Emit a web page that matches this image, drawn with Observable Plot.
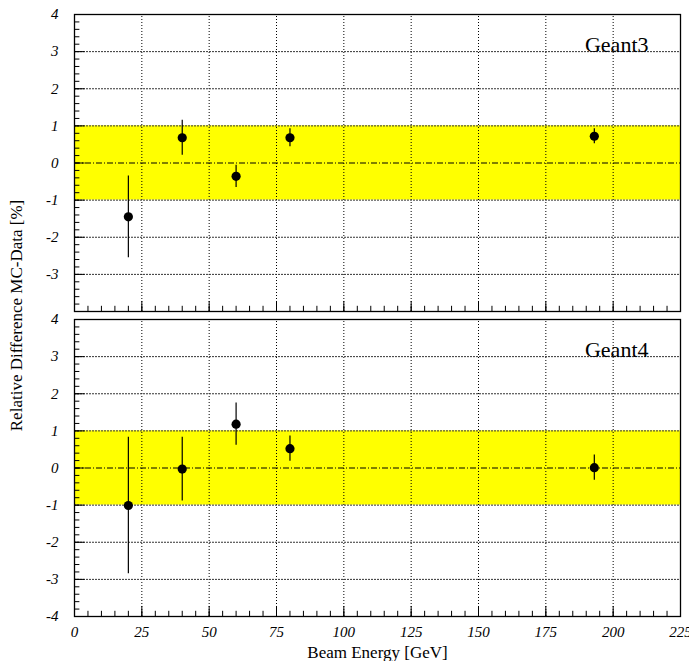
<!DOCTYPE html>
<html>
<head>
<meta charset="utf-8">
<script src="https://cdn.jsdelivr.net/npm/d3@7"></script>
<script src="https://cdn.jsdelivr.net/npm/@observablehq/plot@0.6"></script>
<style>
  html, body { margin: 0; padding: 0; background: #fff; }
  #chart svg { display: block; }
  #chart svg text { font-family: "Liberation Serif", "Times New Roman", Times, serif; }
</style>
</head>
<body>
<div id="chart"></div>
<script>
// Beam energies (GeV) of the measured points
const energies = [20, 40, 60, 80, 193];

// Relative difference MC - data (%) and its uncertainty, per simulation
const geant3 = [-1.45, 0.68, -0.36, 0.68, 0.72];
const geant3Err = [1.1, 0.47, 0.3, 0.24, 0.2];
const geant4 = [-1.01, -0.03, 1.18, 0.52, 0.01];
const geant4Err = [1.84, 0.86, 0.57, 0.34, 0.34];

const panels = ["Geant3", "Geant4"];

// Axis ticks
const xMajor = [0, 25, 50, 75, 100, 125, 150, 175, 200, 225];
const xGrid = [25, 50, 75, 100, 125, 150, 175, 200];
const xMinor = d3.range(0, 226, 5);
const yGrid = [-3, -2, -1, 1, 2, 3];
const yMajor = [-4, -3, -2, -1, 0, 1, 2, 3, 4];
const yMinor = d3.range(-40, 41, 2).map(v => v / 10);
// the top panel omits its lowest label where it meets the lower panel
const yLabels = [
  {panel: "Geant3", ticks: [-3, -2, -1, 0, 1, 2, 3, 4]},
  {panel: "Geant4", ticks: [-4, -3, -2, -1, 0, 1, 2, 3, 4]}
];

// ±1% tolerance band
const bandLow = -1;
const bandHigh = 1;

const xDomain = [0, 225];
const yDomain = [-4, 4];

const points = [
  ...energies.map((e, i) => ({panel: "Geant3", energy: e, diff: geant3[i], err: geant3Err[i]})),
  ...energies.map((e, i) => ({panel: "Geant4", energy: e, diff: geant4[i], err: geant4Err[i]}))
];
const tickLabelRows = yLabels.flatMap(p => p.ticks.map(t => ({panel: p.panel, v: t})));

const serif = "Liberation Serif, Times New Roman, Times, serif";
// tick lengths expressed in axis units
const xTickMinor = 0.14, xTickMajor = 0.27;
const yTickMinor = 2.0, yTickMajor = 3.9;

const chart = Plot.plot({
  width: 689,
  height: 661,
  marginLeft: 74,
  marginRight: 9,
  marginTop: 13,
  marginBottom: 44,
  style: {fontFamily: serif, background: "#fff", color: "#000"},
  x: {domain: xDomain},
  y: {domain: yDomain, axis: null},
  fy: {domain: panels, paddingInner: 0.025, paddingOuter: 0},
  marks: [
    // tolerance band
    Plot.rect([{lo: bandLow, hi: bandHigh}], {x1: xDomain[0], x2: xDomain[1], y1: "lo", y2: "hi", fill: "#ffff00"}),
    // dotted grid
    Plot.ruleX(xGrid, {y1: yDomain[0], y2: yDomain[1], stroke: "#000", strokeWidth: 1, strokeDasharray: "1,2"}),
    Plot.ruleY(yGrid, {x1: xDomain[0], x2: xDomain[1], stroke: "#333", strokeWidth: 1, strokeDasharray: "2,1"}),
    // zero line, dash-dot
    Plot.ruleY([0], {x1: xDomain[0], x2: xDomain[1], stroke: "#000", strokeWidth: 1, strokeDasharray: "6,2,1,2"}),
    // inward ticks on the bottom edge
    Plot.ruleX(xMinor, {y1: yDomain[0], y2: yDomain[0] + xTickMinor, stroke: "#000", strokeWidth: 1}),
    Plot.ruleX(xMajor, {y1: yDomain[0], y2: yDomain[0] + xTickMajor, stroke: "#000", strokeWidth: 1}),
    // inward ticks on the left edge
    Plot.ruleY(yMinor, {x1: xDomain[0], x2: xDomain[0] + yTickMinor, stroke: "#000", strokeWidth: 1}),
    Plot.ruleY(yMajor, {x1: xDomain[0], x2: xDomain[0] + yTickMajor, stroke: "#000", strokeWidth: 1}),
    // panel frames
    Plot.frame({stroke: "#000", strokeWidth: 1.3}),
    // y tick labels
    Plot.text(tickLabelRows, {
      fy: "panel", y: "v", text: d => String(d.v), frameAnchor: "left",
      textAnchor: "end", dx: -16, fontSize: 15, fontStyle: "italic",
      fontFamily: serif, fill: "#000"
    }),
    // error bars and points
    Plot.ruleX(points, {fy: "panel", x: "energy", y1: d => d.diff - d.err, y2: d => d.diff + d.err, stroke: "#000", strokeWidth: 1.2}),
    Plot.dot(points, {fy: "panel", x: "energy", y: "diff", r: 4.6, fill: "#000", stroke: "none"}),
    // panel names
    Plot.text(panels, {
      fy: d => d, text: d => d, frameAnchor: "top-right", textAnchor: "end",
      lineAnchor: "top", dx: -32, dy: 22, fontSize: 22, fontFamily: serif, fill: "#000"
    }),
    // x axis labels
    Plot.axisX({
      anchor: "bottom", ticks: xMajor, tickSize: 0, tickPadding: 10,
      tickFormat: d => String(d), fontSize: 15, fontStyle: "italic",
      fontFamily: serif, fontVariant: "normal", label: null
    }),
    Plot.axisX({
      anchor: "bottom", ticks: [], tickSize: 0, label: "Beam Energy [GeV]",
      labelAnchor: "center", labelOffset: 41, labelArrow: "none",
      fontSize: 17, fontFamily: serif
    }),
    // shared y label
    Plot.axisFy({
      anchor: "left", tickSize: 0, tickFormat: () => "",
      label: "Relative Difference MC-Data [%]", labelAnchor: "center",
      labelOffset: 65, labelArrow: "none", fontSize: 17, fontFamily: serif
    })
  ]
});

document.getElementById("chart").appendChild(chart);
</script>
</body>
</html>
